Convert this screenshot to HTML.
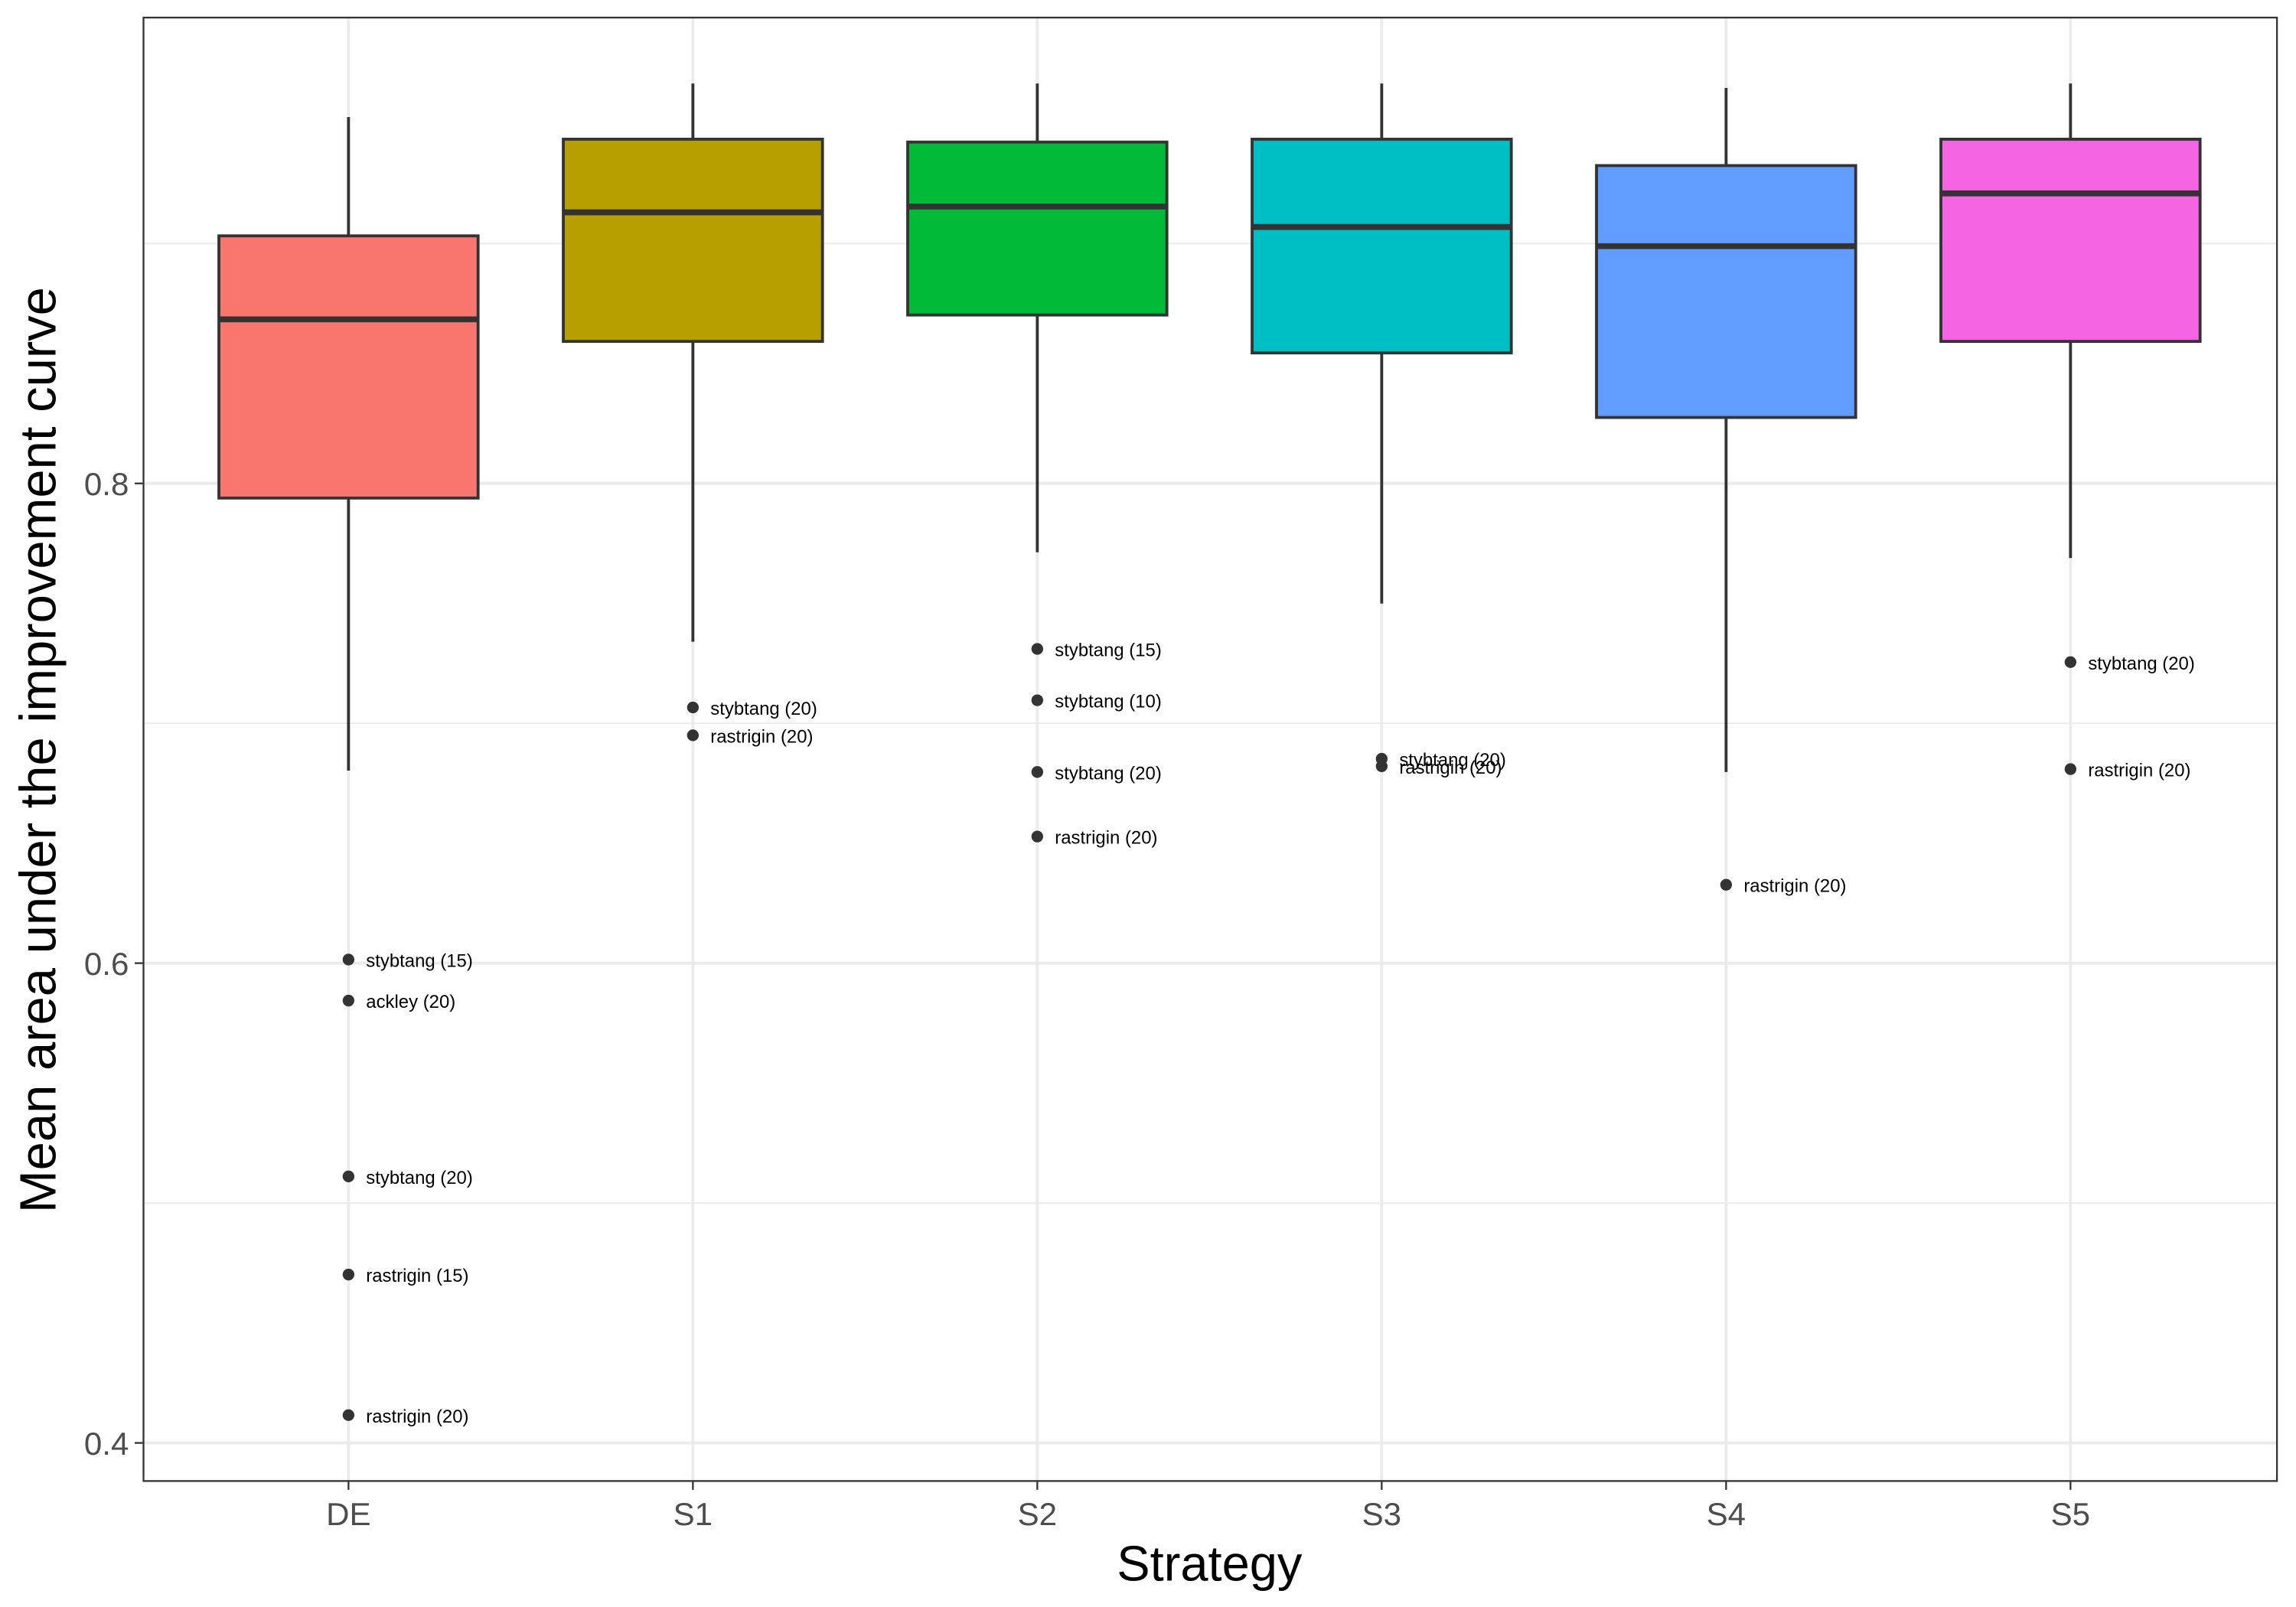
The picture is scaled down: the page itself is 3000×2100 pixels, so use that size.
<!DOCTYPE html>
<html><head><meta charset="utf-8"><style>
html,body{margin:0;padding:0;background:#fff;}
svg{display:block;font-family:"Liberation Sans",Arial,sans-serif;}
</style></head><body>
<svg id="chart" width="3000" height="2100" viewBox="0 0 1568 1097" preserveAspectRatio="none" xmlns="http://www.w3.org/2000/svg">
<rect x="0" y="0" width="1568" height="1097" fill="#fff"/>
<g id="grid"></g>
<g id="boxes"></g>
<g id="outl"></g>
<rect x="98" y="12" width="1457" height="999" fill="none" stroke="#333" stroke-width="1.2"/>
<g id="axes"></g>
<text x="826" y="1079" font-size="34" text-anchor="middle" fill="#000">Strategy</text>
<text transform="translate(38,512) rotate(-90)" font-size="35" text-anchor="middle" fill="#000">Mean area under the improvement curve</text>
</svg>
<script>
const categories=["DE","S1","S2","S3","S4","S5"];
const colors=["#F8766D","#B79F00","#00BA38","#00BFC4","#619CFF","#F564E3"];
const whiskerHigh=[0.9527,0.9667,0.9667,0.9667,0.9649,0.9667];
const boxQ3=[0.9032,0.9435,0.9423,0.9435,0.9325,0.9435];
const medians=[0.8684,0.9130,0.9154,0.9069,0.8989,0.9209];
const boxQ1=[0.7939,0.8592,0.8702,0.8544,0.8275,0.8592];
const whiskerLow=[0.6803,0.7340,0.7713,0.7499,0.6797,0.7689];
const outlierCat=[0,0,0,0,0,1,1,2,2,2,2,3,3,4,5,5];
const outlierVal=[0.6015,0.5844,0.5111,0.4702,0.4116,0.7066,0.6950,0.7310,0.7096,0.6797,0.6528,0.6852,0.6821,0.6327,0.7255,0.6809];
const outlierLab=["stybtang (15)","ackley (20)","stybtang (20)","rastrigin (15)","rastrigin (20)","stybtang (20)","rastrigin (20)","stybtang (15)","stybtang (10)","stybtang (20)","rastrigin (20)","stybtang (20)","rastrigin (20)","rastrigin (20)","stybtang (20)","rastrigin (20)"];
const majorTicks=[0.4,0.6,0.8];
const minorTicks=[0.5,0.7,0.9];
const yTickLabels=["0.4","0.6","0.8"];
const NS="http://www.w3.org/2000/svg";
const y=v=>330+(0.8-v)*1637.5;
const x=i=>238+235.2*i;
function mk(t,a,p){const e=document.createElementNS(NS,t);for(const k in a)e.setAttribute(k,a[k]);p.appendChild(e);return e;}
const grid=document.getElementById('grid'),boxes=document.getElementById('boxes'),outl=document.getElementById('outl'),axes=document.getElementById('axes');
minorTicks.forEach(v=>{const l=mk('line',{x1:98,x2:1555,y1:y(v),y2:y(v),stroke:'#ebebeb','stroke-width':1},grid);

});
majorTicks.forEach((v,i)=>{const l=mk('line',{x1:98,x2:1555,y1:y(v),y2:y(v),stroke:'#ebebeb','stroke-width':2},grid);


const t=mk('line',{x1:92,x2:98,y1:y(v),y2:y(v),stroke:'#333','stroke-width':1.2},axes);


const tx=mk('text',{x:88,y:y(v)+8,'font-size':22,'text-anchor':'end',fill:'#4d4d4d'},axes);tx.textContent=yTickLabels[i];

});
categories.forEach((c,i)=>{const cx=x(i);
const g=mk('line',{x1:cx,x2:cx,y1:12,y2:1011,stroke:'#ebebeb','stroke-width':2},grid);


const w=mk('line',{x1:cx,x2:cx,y1:y(whiskerHigh[i]),y2:y(whiskerLow[i]),stroke:'#333','stroke-width':2},boxes);


const r=mk('rect',{x:cx-88.5,y:y(boxQ3[i]),width:177,height:y(boxQ1[i])-y(boxQ3[i]),fill:colors[i],stroke:'#333','stroke-width':2},boxes);


const m=mk('line',{x1:cx-88.5,x2:cx+88.5,y1:y(medians[i]),y2:y(medians[i]),stroke:'#333','stroke-width':4},boxes);


const t=mk('line',{x1:cx,x2:cx,y1:1011,y2:1017,stroke:'#333','stroke-width':1.2},axes);


const tx=mk('text',{x:cx,y:1041,'font-size':22,'text-anchor':'middle',fill:'#4d4d4d'},axes);tx.textContent=c;

});
outlierVal.forEach((v,k)=>{const cx=x(outlierCat[k]),cy=y(v);
const p=mk('circle',{cx:cx,cy:cy,r:4,fill:'#333'},outl);


const t=mk('text',{x:cx+12,y:cy+5,'font-size':12.5,fill:'#000'},outl);t.textContent=outlierLab[k];

});
</script>
</body></html>
